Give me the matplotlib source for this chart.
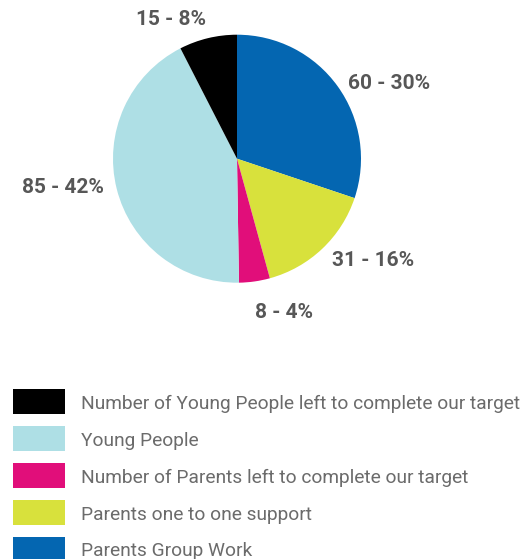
import matplotlib
matplotlib.use("Agg")
import matplotlib.pyplot as plt
from matplotlib.patches import Rectangle

# data
categories = ["Parents Group Work", "Parents one to one support",
              "Number of Parents left to complete our target",
              "Young People", "Number of Young People left to complete our target"]
values = [60, 31, 8, 85, 15]
value_labels = ["60 - 30%", "31 - 16%", "8 - 4%", "85 - 42%", "15 - 8%"]
colors = ["#0466b1", "#d8e13c", "#e10e7a", "#aedfe5", "#000000"]

# label spots in pie units (radius = 1)
label_pos = [(1.23, 0.61), (1.10, -0.82), (0.38, -1.24), (-1.40, -0.23), (-0.53, 1.12)]

plt.rcParams['font.family'] = ['Roboto', 'DejaVu Sans']

W, H = 524, 559
fig = plt.figure(figsize=(W/100, H/100), dpi=100)
ax = fig.add_axes([113/W, 276.3/H, 248/W, 248/H])
ax.pie(values, colors=colors, startangle=90, counterclock=False, radius=1,
       wedgeprops=dict(linewidth=0))
ax.set_xlim(-1, 1)
ax.set_ylim(-1, 1)
ax.axis('off')
for txt, (x, y) in zip(value_labels, label_pos):
    ax.text(x, y, txt, ha='center', va='center', fontsize=15, fontweight='bold',
            color='#575757', clip_on=False)

# legend drawn by hand, reverse order of the pie, sizes in pixels
top, pitch = 389, 37
for i, (lab, col) in enumerate(zip(categories[::-1], colors[::-1])):
    y0 = top + i*pitch
    fig.patches.append(Rectangle((13/W, 1 - (y0+25)/H), 52/W, 25/H, facecolor=col,
                                 edgecolor='none', transform=fig.transFigure, figure=fig))
    fig.text(81/W, 1 - (y0+12.5)/H, lab, ha='left', va='center_baseline',
             fontsize=13.8, color='#6b6b6b')

fig.savefig("out.png", dpi=100)
